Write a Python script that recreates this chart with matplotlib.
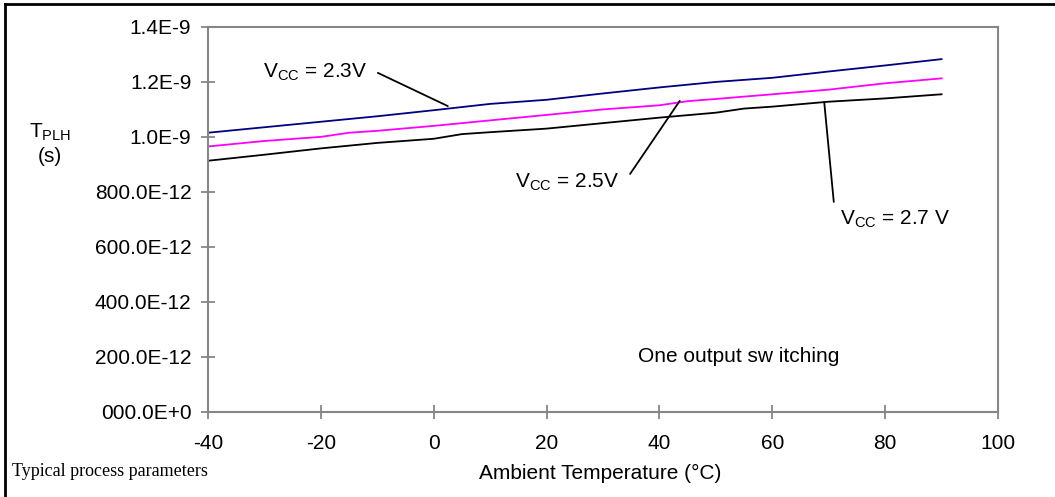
import numpy as np
import matplotlib
matplotlib.use("Agg")
import matplotlib.pyplot as plt
from matplotlib.lines import Line2D

plt.rcParams['font.family'] = ['Liberation Sans', 'DejaVu Sans']
plt.rcParams['mathtext.fontset'] = 'custom'
plt.rcParams['mathtext.rm'] = 'Liberation Sans'
plt.rcParams['mathtext.default'] = 'rm'

# --- data (temperature in degC, delay in ns) ---
temp_23 = [-40, -30, -20, -10, 0, 10, 20, 30, 40, 50, 60, 70, 80, 90]
tplh_23 = [1.015, 1.035, 1.055, 1.075, 1.097, 1.120, 1.135, 1.158, 1.180, 1.200, 1.215, 1.238, 1.260, 1.283]

temp_25 = [-40, -30, -20, -15, -10, 0, 10, 20, 30, 40, 45, 50, 60, 70, 80, 90]
tplh_25 = [0.965, 0.985, 1.000, 1.015, 1.022, 1.040, 1.060, 1.080, 1.100, 1.115, 1.130, 1.138, 1.155, 1.172, 1.195, 1.213]

temp_27 = [-40, -30, -20, -10, 0, 5, 10, 20, 30, 40, 50, 55, 60, 70, 80, 90]
tplh_27 = [0.913, 0.935, 0.958, 0.978, 0.993, 1.010, 1.017, 1.030, 1.050, 1.070, 1.088, 1.103, 1.110, 1.128, 1.140, 1.155]

y_ticks = [0, 0.2e-9, 0.4e-9, 0.6e-9, 0.8e-9, 1.0e-9, 1.2e-9, 1.4e-9]
y_tick_labels = ['000.0E+0', '200.0E-12', '400.0E-12', '600.0E-12', '800.0E-12', '1.0E-9', '1.2E-9', '1.4E-9']
x_ticks = [-40, -20, 0, 20, 40, 60, 80, 100]

# label text, text anchor (T, s), leader start (T, s), leader end (T, s), ha
labels = [
    (r'V$_{\mathrm{CC}}$ = 2.3V', (-11.8, 1.214e-9), (-9.9, 1.233e-9), (2.5, 1.112e-9), 'right'),
    (r'V$_{\mathrm{CC}}$ = 2.5V', (14.4, 0.814e-9), (34.8, 0.865e-9), (43.6, 1.131e-9), 'left'),
    (r'V$_{\mathrm{CC}}$ = 2.7 V', (72.0, 0.679e-9), (70.9, 0.763e-9), (69.2, 1.127e-9), 'left'),
]

gray = '#868686'
fs = 15

fig = plt.figure(figsize=(10.55, 4.97), dpi=100)
ax = fig.add_axes([208/1055, 1-411.5/497, (998-208)/1055, (411.5-27)/497])

ns = 1e-9
ax.plot(temp_23, np.array(tplh_23)*ns, color='#000080', lw=1.3)
ax.plot(temp_25, np.array(tplh_25)*ns, color='#FF00FF', lw=1.3)
ax.plot(temp_27, np.array(tplh_27)*ns, color='black', lw=1.3)

for txt, pos, start, end, ha in labels:
    ax.text(pos[0], pos[1], txt, ha=ha, va='baseline', fontsize=fs)
    ax.annotate('', xy=end, xytext=start,
                arrowprops=dict(arrowstyle='-', color='black', lw=1.3,
                                shrinkA=0, shrinkB=0))

ax.text(54, 0.2e-9, 'One output sw itching', ha='center', va='center', fontsize=fs)

ax.set_xlim(-40, 100)
ax.set_ylim(0, 1.4e-9)
ax.set_xticks(x_ticks)
ax.set_xticklabels([str(t) for t in x_ticks])
ax.set_yticks(y_ticks)
ax.set_yticklabels(y_tick_labels)
ax.tick_params(axis='both', direction='inout', length=10, width=1.3, color=gray,
               labelsize=fs, labelcolor='black')
ax.tick_params(axis='x', pad=11)
ax.tick_params(axis='y', pad=7)
for sp in ax.spines.values():
    sp.set_color(gray)
    sp.set_linewidth(1.5)

fig.text(600/1055, 1-473/497, 'Ambient Temperature (°C)', ha='center', va='center', fontsize=fs)
fig.text(50/1055, 1-132/497, r'T$_{\mathrm{PLH}}$', ha='center', va='center', fontsize=fs)
fig.text(50/1055, 1-157/497, '(s)', ha='center', va='center', fontsize=fs)
fig.text(12/1055, 1-472/497, 'Typical process parameters', ha='left', va='center',
         fontsize=13, family='Liberation Serif')

# outer frame (top and left edges only)
fig.add_artist(Line2D([5/1055, 1], [1-4/497, 1-4/497], transform=fig.transFigure, color='black', lw=2))
fig.add_artist(Line2D([5/1055, 5/1055], [0, 1-4/497], transform=fig.transFigure, color='black', lw=2))

fig.savefig('out.png', dpi=100)
